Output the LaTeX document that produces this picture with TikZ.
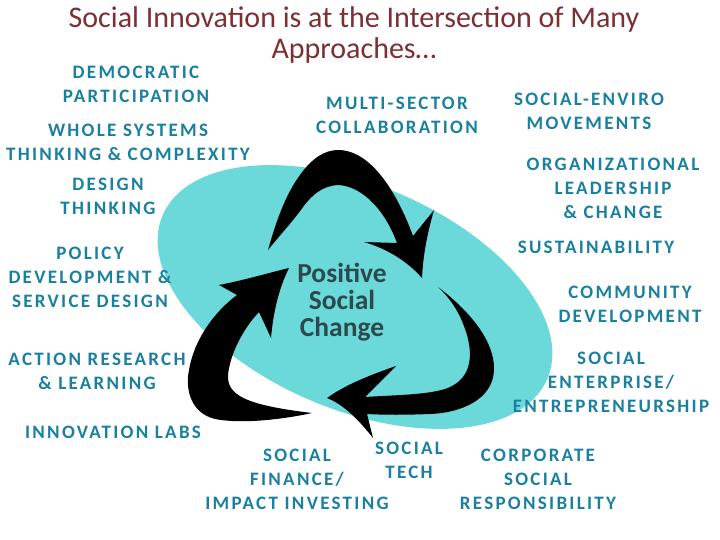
\documentclass[tikz,border=0pt]{standalone}
\usepackage{fontspec}
\setmainfont{Carlito}
\newfontfamily\labfont{Carlito}[LetterSpace=12]
\definecolor{labc}{HTML}{1A80A0}
\definecolor{titlec}{HTML}{7E2F33}
\definecolor{centc}{HTML}{2C4A4E}
\definecolor{ellc}{HTML}{6BD9DA}
\begin{document}
\begin{tikzpicture}[x=1pt,y=-1pt,
  lab/.style={font=\labfont\bfseries\fontsize{19}{24}\selectfont, text=labc, align=center, inner sep=0pt},
  arrowshape/.style={fill=black}]
\useasboundingbox (0,0) rectangle (720,540);
\fill[white] (0,0) rectangle (720,540);
% ellipse
\fill[ellc, rotate around={-23:(355,297)}] (355,297) ellipse [x radius=209, y radius=112.5];
% title
\node[font=\fontsize{30}{31}\selectfont, text=titlec, align=center, inner sep=0pt] (title) at (354,35) {Social Innovation is at the Intersection of Many\\Approaches\dots};
% arrows
\fill[arrowshape] (268,250)
 .. controls (275,225) and (285,195) .. (300,175)
 .. controls (312,158) and (325,150) .. (338,150)
 .. controls (372,150) and (398,195) .. (413,236)
 -- (434,210)
 .. controls (426,238) and (423,258) .. (422,278)
 .. controls (408,262) and (388,249) .. (364,242)
 -- (397,243)
 .. controls (385,210) and (362,186) .. (338,185)
 .. controls (322,186) and (312,195) .. (303,207)
 .. controls (294,220) and (280,235) .. (268,250) -- cycle;
\fill[arrowshape] (438,287)
 .. controls (475,315) and (495,345) .. (494,370)
 .. controls (493,400) and (460,413) .. (430,414)
 .. controls (405,415) and (385,415) .. (367,414)
 -- (373,438)
 .. controls (355,415) and (340,403) .. (327,398)
 .. controls (345,385) and (370,375) .. (396,366)
 -- (365,397)
 .. controls (395,395) and (425,395) .. (445,389)
 .. controls (469,381) and (474,360) .. (467,335)
 .. controls (461,315) and (452,300) .. (438,287) -- cycle;
\fill[arrowshape] (312,413)
 .. controls (280,420) and (240,424) .. (215,419)
 .. controls (191,413) and (185,390) .. (189,370)
 .. controls (194,340) and (214,312) .. (237,295)
 -- (219,285)
 .. controls (245,280) and (268,273) .. (289,268)
 .. controls (278,290) and (273,315) .. (271,338)
 -- (259,312)
 .. controls (242,330) and (230,355) .. (228,375)
 .. controls (227,395) and (245,405) .. (312,413) -- cycle;
% centre text
\node[font=\bfseries\fontsize{27.5}{27}\selectfont, text=centc, align=center, inner sep=0pt] (centre) at (342,302) {Positive\\Social\\Change};
% labels
\node[lab] (democ) at (136,84) {DEMOCRATIC\\PARTICIPATION};
\node[lab] (whole) at (128,142) {WHOLE SYSTEMS\\THINKING \& COMPLEXITY};
\node[lab] (design) at (108,196) {DESIGN\\THINKING};
\node[lab] (policy) at (90,277) {POLICY\\DEVELOPMENT \&\\SERVICE DESIGN};
\node[lab] (action) at (97,371) {ACTION RESEARCH\\\& LEARNING};
\node[lab] (labs) at (113,432) {INNOVATION LABS};
\node[lab] (multi) at (397,115) {MULTI-SECTOR\\COLLABORATION};
\node[lab] (enviro) at (589,111) {SOCIAL-ENVIRO\\MOVEMENTS};
\node[lab] (org) at (613,188) {ORGANIZATIONAL\\LEADERSHIP\\\& CHANGE};
\node[lab] (sust) at (596,247) {SUSTAINABILITY};
\node[lab] (comm) at (630,304) {COMMUNITY\\DEVELOPMENT};
\node[lab] (enterp) at (611,382) {SOCIAL\\ENTERPRISE/\\ENTREPRENEURSHIP};
\node[lab] (tech) at (409,460) {SOCIAL\\TECH};
\node[lab] (finance) at (297,479) {SOCIAL\\FINANCE/\\IMPACT INVESTING};
\node[lab] (csr) at (538,479) {CORPORATE\\SOCIAL\\RESPONSIBILITY};
\end{tikzpicture}
\end{document}
